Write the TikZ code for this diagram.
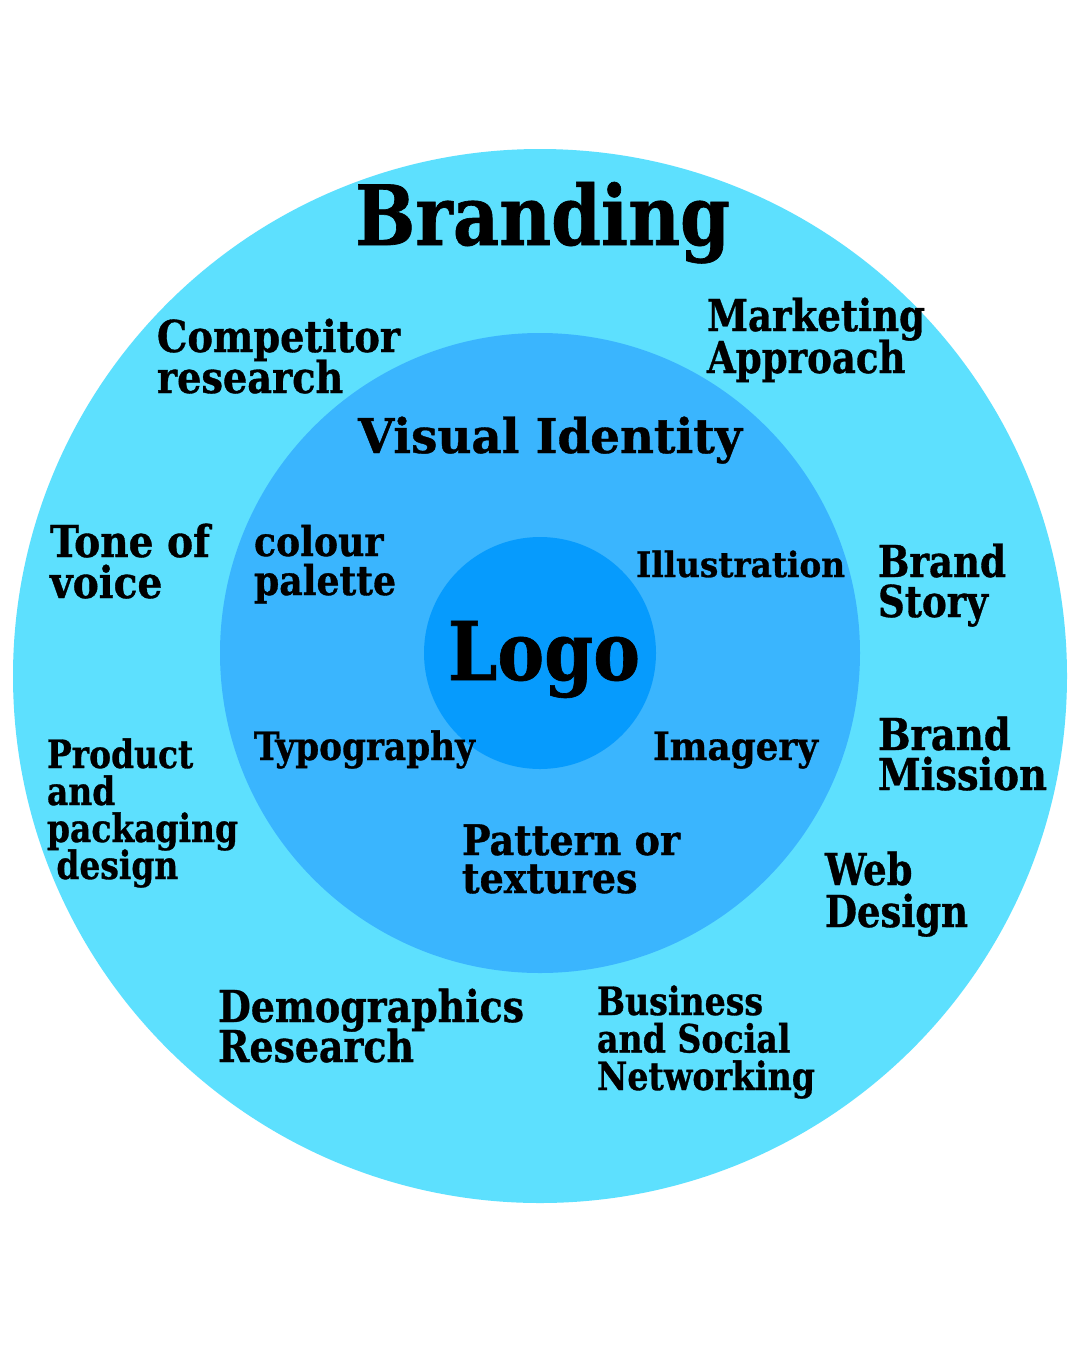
\documentclass[tikz,border=0pt]{standalone}
\usepackage{fontspec}
\usepackage{graphicx}
\setmainfont{DejaVu Serif Condensed}[BoldFeatures={FakeBold=0.8}]
\definecolor{outerc}{HTML}{5DE0FE}
\definecolor{midc}{HTML}{3AB5FE}
\definecolor{innerc}{HTML}{069BFD}
\newcommand{\fitw}[2]{\resizebox{#1}{\height}{\vtop{\lineskiplimit=-\maxdimen\halign{##\hfil\cr#2\crcr}}}}
\tikzset{
  lbl/.style={anchor=base west, inner sep=0pt, outer sep=0pt, text=black},
}
\begin{document}
\begin{tikzpicture}[x=1pt,y=-1pt]
\useasboundingbox (0,0) rectangle (1080,1350);
\fill[white] (0,0) rectangle (1080,1350);
\fill[outerc] (540,676) circle[radius=527];
\fill[midc] (540,653) circle[radius=320];
\fill[innerc] (540,653) circle[radius=116];

\node[lbl,font=\fontsize{83}{83}\bfseries\selectfont] (branding) at (355,245) {\fitw{375pt}{Branding}};
\node[lbl,font=\fontsize{81}{81}\bfseries\selectfont] (logo) at (448,680) {\fitw{192pt}{Logo}};
\node[lbl,font=\fontsize{48}{48}\bfseries\selectfont] (visual) at (358,453) {\fitw{384pt}{Visual Identity}};

\node[lbl,font=\fontsize{44}{41}\bfseries\selectfont] (comp) at (157,352) {\fitw{243pt}{Competitor\cr research}};
\node[lbl,font=\fontsize{44}{42}\bfseries\selectfont] (mkt) at (707,331) {\fitw{218pt}{Marketing\cr Approach}};
\node[lbl,font=\fontsize{44}{41}\bfseries\selectfont] (tone) at (50,557) {\fitw{160pt}{Tone of\cr voice}};
\node[lbl,font=\fontsize{41}{39}\bfseries\selectfont] (colour) at (254,556) {\fitw{142pt}{colour\cr palette}};
\node[lbl,font=\fontsize{35}{35}\bfseries\selectfont] (illus) at (636,577) {\fitw{209pt}{Illustration}};
\node[lbl,font=\fontsize{44}{40}\bfseries\selectfont] (story) at (878,577) {\fitw{128pt}{Brand\cr Story}};
\node[lbl,font=\fontsize{39}{38}\bfseries\selectfont] (typo) at (254,760) {\fitw{221pt}{Typography}};
\node[lbl,font=\fontsize{39}{38}\bfseries\selectfont] (imag) at (653,760) {\fitw{165pt}{Imagery}};
\node[lbl,font=\fontsize{44}{40}\bfseries\selectfont] (mission) at (878,750) {\fitw{169pt}{Brand\cr Mission}};
\node[lbl,font=\fontsize{39}{37}\bfseries\selectfont] (product) at (47,768) {\fitw{191pt}{Product\cr and\cr packaging\cr \kern10pt design}};
\node[lbl,font=\fontsize{42}{38}\bfseries\selectfont] (pattern) at (462,855) {\fitw{218pt}{Pattern or\cr textures}};
\node[lbl,font=\fontsize{44}{42}\bfseries\selectfont] (web) at (825,885) {\fitw{143pt}{Web\cr Design}};
\node[lbl,font=\fontsize{44}{40}\bfseries\selectfont] (demo) at (218,1022) {\fitw{306pt}{Demographics\cr Research}};
\node[lbl,font=\fontsize{39}{37.5}\bfseries\selectfont] (biz) at (597,1015) {\fitw{218pt}{Business\cr and Social\cr Networking}};
\end{tikzpicture}
\end{document}
